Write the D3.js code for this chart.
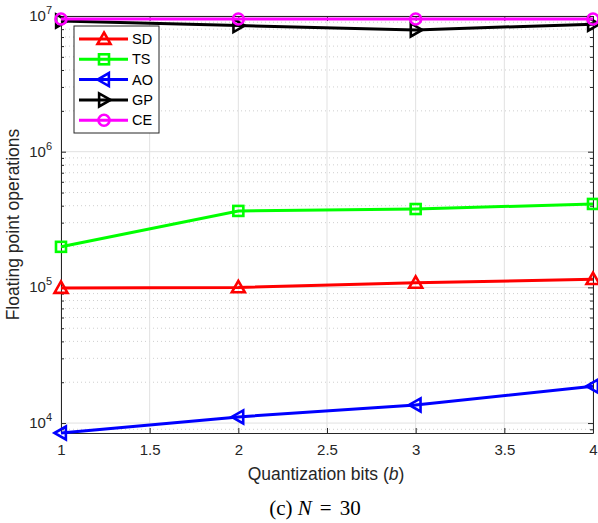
<!DOCTYPE html>
<html lang="en">
<head>
<meta charset="UTF-8">
<title>Floating point operations vs quantization bits</title>
<script src="https://d3js.org/d3.v7.min.js"></script>
<style>
    body { margin: 0; background: #fff; }
    svg { display: block; font-family: "Liberation Sans", Arial, sans-serif; }
    .tick text { font-size: 15px; fill: #262626; }
</style>
</head>
<body>
<svg id="chart" width="598" height="523"></svg>
<script>
// data
const bits = [1, 2, 3, 4];
const xTicks = [1, 1.5, 2, 2.5, 3, 3.5, 4];
const yTicks = [1e4, 1e5, 1e6, 1e7];
const sdFlops = [9.9e4, 1.0e5, 1.08e5, 1.15e5];
const tsFlops = [1.99e5, 3.66e5, 3.78e5, 4.12e5];
const aoFlops = [8.45e3, 1.11e4, 1.36e4, 1.87e4];
const gpFlops = [9.2e6, 8.5e6, 7.9e6, 8.7e6];
const ceFlops = [9.5e6, 9.5e6, 9.5e6, 9.5e6];

const series = [
    {name: "SD", values: sdFlops, color: "#ff0000", marker: "up"},
    {name: "TS", values: tsFlops, color: "#00ff00", marker: "square"},
    {name: "AO", values: aoFlops, color: "#0000ff", marker: "left"},
    {name: "GP", values: gpFlops, color: "#000000", marker: "right"},
    {name: "CE", values: ceFlops, color: "#ff00ff", marker: "circle"}
];

const margin = {top: 16, right: 5, bottom: 90, left: 61},
    width = 598 - margin.left - margin.right,
    height = 523 - margin.top - margin.bottom;

const svg = d3.select("#chart");
const g = svg.append("g").attr("transform", `translate(${margin.left},${margin.top})`);

const x = d3.scaleLinear().domain([1, 4]).range([0, width]);
const y = d3.scaleLog().domain([8450, 1e7]).range([height, 0]);

// minor values for dotted grid
const minor = [];
for (let e = 3; e <= 6; e++) {
    for (let m = 2; m <= 9; m++) {
        const v = m * Math.pow(10, e);
        if (v > y.domain()[0] && v < y.domain()[1]) minor.push(v);
    }
}

// grid
g.append("g").selectAll("line").data(minor).join("line")
    .attr("x1", 0).attr("x2", width)
    .attr("y1", d => y(d)).attr("y2", d => y(d))
    .attr("stroke", "#cfcfcf").attr("stroke-width", 1)
    .attr("stroke-dasharray", "1,3");
g.append("g").selectAll("line").data(yTicks).join("line")
    .attr("x1", 0).attr("x2", width)
    .attr("y1", d => y(d)).attr("y2", d => y(d))
    .attr("stroke", "#e1e1e1").attr("stroke-width", 1);
g.append("g").selectAll("line").data(xTicks).join("line")
    .attr("x1", d => x(d)).attr("x2", d => x(d))
    .attr("y1", 0).attr("y2", height)
    .attr("stroke", "#e1e1e1").attr("stroke-width", 1);

// axes
g.append("g").attr("transform", `translate(0,${height})`)
    .call(d3.axisBottom(x).tickValues(xTicks).tickFormat(d3.format("")).tickSizeInner(-5).tickSizeOuter(0).tickPadding(11));
g.append("g")
    .call(d3.axisTop(x).tickValues(xTicks).tickFormat("").tickSizeInner(-5).tickSizeOuter(0));

g.append("g")
    .call(d3.axisLeft(y).tickValues(yTicks).tickFormat("").tickSizeInner(-5).tickSizeOuter(0));
g.append("g").attr("transform", `translate(${width},0)`)
    .call(d3.axisRight(y).tickValues(yTicks).tickFormat("").tickSizeInner(-5).tickSizeOuter(0));
g.append("g").call(d3.axisLeft(y).tickValues(minor).tickFormat("").tickSizeInner(-3).tickSizeOuter(0))
    .select(".domain").remove();
g.append("g").attr("transform", `translate(${width},0)`)
    .call(d3.axisRight(y).tickValues(minor).tickFormat("").tickSizeInner(-3).tickSizeOuter(0))
    .select(".domain").remove();

g.selectAll(".domain").attr("stroke", "#262626");
g.selectAll(".tick line").attr("stroke", "#262626");

// y tick labels as 10^n
yTicks.forEach(v => {
    const t = g.append("text")
        .attr("x", -9).attr("y", y(v) + 5)
        .attr("text-anchor", "end")
        .attr("font-size", 15).attr("fill", "#262626");
    t.append("tspan").text("10");
    t.append("tspan").attr("dy", -7).attr("font-size", 11).text(Math.round(Math.log10(v)));
});

// lines
const line = d3.line().x((d, i) => x(bits[i])).y(d => y(d));

function marker(sel, type, color) {
    const s = 6.5;
    if (type === "circle") {
        sel.append("circle").attr("r", 5.5);
    } else if (type === "square") {
        sel.append("rect").attr("x", -5).attr("y", -5).attr("width", 10).attr("height", 10);
    } else {
        let pts;
        if (type === "up") pts = [[0, -s], [s, s * 0.75], [-s, s * 0.75]];
        if (type === "left") pts = [[-s, 0], [s * 0.75, -s], [s * 0.75, s]];
        if (type === "right") pts = [[s, 0], [-s * 0.75, -s], [-s * 0.75, s]];
        sel.append("polygon").attr("points", pts.map(p => p.join(",")).join(" "));
    }
    sel.selectAll("*").attr("fill", "none").attr("stroke", color).attr("stroke-width", 2.6);
}

const plot = g.append("g");
series.forEach(s => {
    plot.append("path").datum(s.values)
        .attr("d", line).attr("fill", "none")
        .attr("stroke", s.color).attr("stroke-width", 3);
    s.values.forEach((v, i) => {
        const m = plot.append("g").attr("transform", `translate(${x(bits[i])},${y(v)})`);
        marker(m, s.marker, s.color);
    });
});

// legend
const leg = svg.append("g").attr("transform", "translate(74,26)");
leg.append("rect").attr("width", 85).attr("height", 107)
    .attr("fill", "#fff").attr("stroke", "#262626").attr("stroke-width", 1);
series.forEach((s, i) => {
    const row = leg.append("g").attr("transform", `translate(0,${13 + i * 20.3})`);
    row.append("line").attr("x1", 5).attr("x2", 54)
        .attr("stroke", s.color).attr("stroke-width", 3);
    marker(row.append("g").attr("transform", "translate(30,0)"), s.marker, s.color);
    row.append("text").attr("x", 58).attr("y", 5)
        .attr("font-size", 14.5).attr("fill", "#000").text(s.name);
});

// axis labels
svg.append("text")
    .attr("x", margin.left + width / 2 - 1).attr("y", 480)
    .attr("text-anchor", "middle").attr("font-size", 17.5).attr("fill", "#262626")
    .html('Quantization bits (<tspan font-style="italic">b</tspan>)');
svg.append("text")
    .attr("transform", `translate(19,${margin.top + height / 2}) rotate(-90)`)
    .attr("text-anchor", "middle").attr("font-size", 17.5).attr("fill", "#262626")
    .text("Floating point operations");

// caption
svg.append("text")
    .attr("x", 315).attr("y", 515)
    .attr("text-anchor", "middle").attr("font-size", 21)
    .attr("font-family", "'Liberation Serif', 'Times New Roman', serif")
    .attr("fill", "#000")
    .html('(c) <tspan font-style="italic">N</tspan><tspan dx="8">=</tspan><tspan dx="8">30</tspan>');
</script>
</body>
</html>
